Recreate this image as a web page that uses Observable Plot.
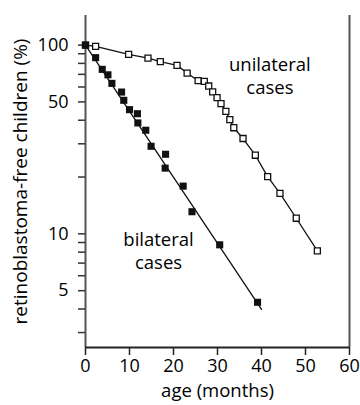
<!DOCTYPE html>
<html>
<head>
<meta charset="utf-8">
<script src="https://cdn.jsdelivr.net/npm/d3@7"></script>
<script src="https://cdn.jsdelivr.net/npm/@observablehq/plot@0.6"></script>
<style>
  html, body { margin: 0; padding: 0; background: #fff; }
</style>
</head>
<body>
<div id="chart"></div>
<script>
// Bilateral cases (filled squares): age in months, % retinoblastoma-free
const bilateralAge = [0, 2.3, 3.8, 5.1, 6.0, 8.2, 8.7, 10.0, 11.8, 11.9, 13.7, 14.9, 18.2, 18.1, 22.2, 24.2, 30.5, 39.1];
const bilateralPct = [100, 85.8, 74.4, 69.6, 62.7, 56.4, 51, 45.5, 43.3, 38.7, 35.4, 29.1, 26.4, 22.3, 17.9, 13.1, 8.75, 4.34];

// Unilateral cases (open squares)
const unilateralAge = [0, 2.3, 9.8, 14.2, 17.0, 20.8, 23.1, 25.6, 27.0, 28.0, 28.9, 29.9, 30.8, 31.9, 32.8, 33.7, 35.8, 38.6, 41.4, 44.2, 47.9, 52.7];
const unilateralPct = [100, 98.4, 89.3, 85.4, 81.7, 78.1, 71.1, 64.8, 64.2, 60.7, 56.5, 52.7, 49, 44.6, 40.3, 36.5, 32, 26.1, 20.1, 16.4, 12.1, 8.13];

// Fitted line for bilateral cases (end points)
const bilateralFitAge = [0, 40];
const bilateralFitPct = [100, 3.98];

// Axis ticks
const xTicks = [0, 10, 20, 30, 40, 50, 60];
const yTicks = [3, 4, 5, 6, 7, 8, 9, 10, 20, 30, 40, 50, 60, 70, 80, 90, 100];
const yTickLabels = [5, 10, 50, 100];

const bilateral = bilateralAge.map((t, i) => ({t, v: bilateralPct[i]}));
const unilateral = unilateralAge.map((t, i) => ({t, v: unilateralPct[i]}));
const bilateralFit = bilateralFitAge.map((t, i) => ({t, v: bilateralFitPct[i]}));

const chart = Plot.plot({
  width: 360,
  height: 405,
  marginLeft: 85,
  marginRight: 11,
  marginTop: 15,
  marginBottom: 58,
  style: {fontFamily: "'Open Sans', sans-serif", fontSize: "18px", color: "#000", background: "#fff"},
  x: {domain: [0, 60]},
  y: {type: "log", domain: [2.5, 143.5]},
  marks: [
    Plot.ruleX([0], {stroke: "#555", strokeWidth: 2}),
    Plot.ruleX([60], {stroke: "#555", strokeWidth: 2}),
    Plot.ruleY([2.5], {stroke: "#222", strokeWidth: 2}),
    Plot.axisX({ticks: xTicks, tickSize: 8, tickPadding: 4, stroke: "#222", strokeWidth: 1.5, label: null, fontSize: 18, fill: "black"}),
    Plot.axisY({ticks: yTicks, tickSize: 7, tickPadding: 10, stroke: "#333", strokeWidth: 1.5, label: null, fontSize: 18, fill: "black",
      tickFormat: d => yTickLabels.includes(d) ? String(d) : ""}),
    Plot.line(unilateral, {x: "t", y: "v", stroke: "#111", strokeWidth: 1.3}),
    Plot.line(bilateralFit, {x: "t", y: "v", stroke: "#111", strokeWidth: 1.3}),
    Plot.dot(unilateral, {x: "t", y: "v", symbol: "square", r: 3.4, fill: "#fff", stroke: "#111", strokeWidth: 1.3}),
    Plot.dot(bilateral, {x: "t", y: "v", symbol: "square", r: 4, fill: "#111", stroke: "none"}),
    Plot.text(["unilateral\ncases"], {x: 41.9, y: 69.6, fontSize: 18.5, lineHeight: 1.25, fill: "black"}),
    Plot.text(["bilateral\ncases"], {x: 16.6, y: 8.22, fontSize: 18.5, lineHeight: 1.25, fill: "black"}),
    Plot.text(["age (months)"], {frameAnchor: "bottom", dy: 44, lineAnchor: "middle", textAnchor: "middle", fontSize: 18.5, fill: "black"}),
    Plot.text(["retinoblastoma-free children (%)"], {frameAnchor: "left", dx: -65, rotate: -90, textAnchor: "middle", lineAnchor: "middle", fontSize: 19, fill: "black"})
  ]
});
document.getElementById("chart").appendChild(chart);
</script>
</body>
</html>
